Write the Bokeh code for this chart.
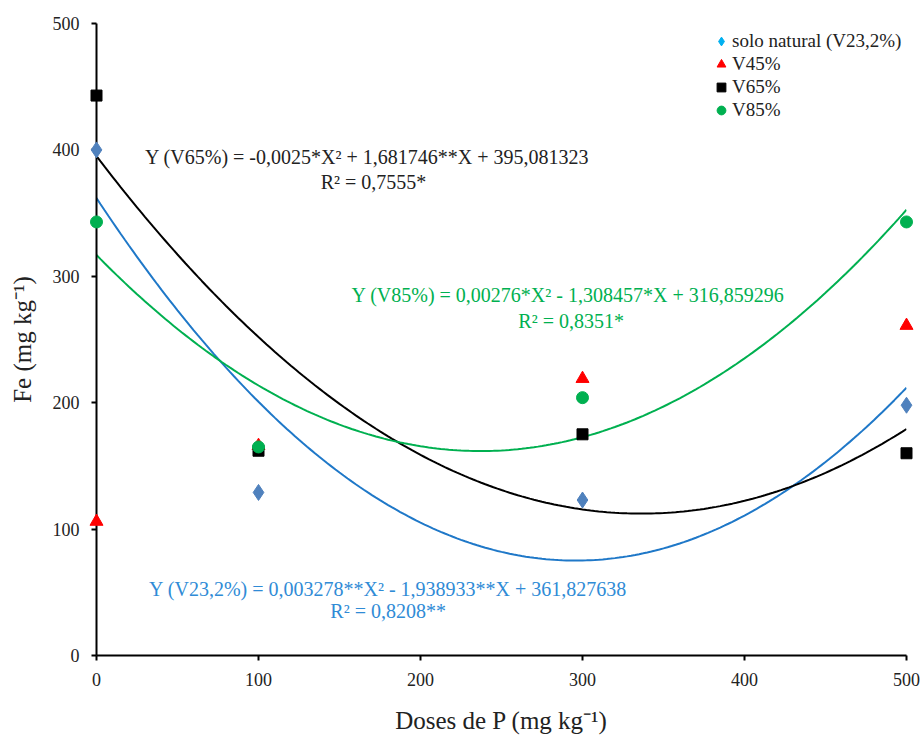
import numpy as np
from bokeh.plotting import figure
from bokeh.models import Range1d, FixedTicker, ColumnDataSource, Legend, LegendItem, Label
from bokeh.embed import file_html
from bokeh.resources import INLINE

# ---- data ----
doses = [0, 100, 300, 500]
fe_natural = [400, 129, 123, 198]
fe_v45 = [106, 166, 219, 261]
fe_v65 = [443, 162, 175, 160]
fe_v85 = [343, 165, 204, 343]

# quadratic trend-line coefficients (a*X^2 + b*X + c)
coef_natural = [0.003278, -1.938933, 361.827638]
coef_v65 = [0.0025, -1.681746, 395.081323]
coef_v85 = [0.00276, -1.308457, 316.859296]

tick_values = [0, 100, 200, 300, 400, 500]

legend_labels = ["solo natural (V23,2%)", "V45%", "V65%", "V85%"]

eq_v65 = ["Y (V65%) = -0,0025*X\u00b2 + 1,681746**X + 395,081323", "R\u00b2 = 0,7555*"]
eq_v85 = ["Y (V85%) = 0,00276*X\u00b2 - 1,308457*X + 316,859296", "R\u00b2 = 0,8351*"]
eq_nat = ["Y (V23,2%) = 0,003278**X\u00b2 - 1,938933**X + 361,827638", "R\u00b2 = 0,8208**"]

FONT = "Liberation Serif"
C_BLUE_MK = "#4f81bd"
C_BLUE_LN = "#1f78c8"
C_BLUE_TX = "#2f8bd6"
C_GREEN = "#00b050"
C_RED = "#ff0000"

p = figure(width=923, height=736, output_backend="svg", toolbar_location=None,
           x_range=Range1d(0, 500), y_range=Range1d(0, 500),
           min_border_left=96, min_border_right=17, min_border_top=23, min_border_bottom=77)
p.outline_line_color = None
p.xgrid.visible = False
p.ygrid.visible = False
p.background_fill_color = "white"
p.border_fill_color = "white"

for ax in (p.xaxis[0], p.yaxis[0]):
    ax.ticker = FixedTicker(ticks=tick_values)
    ax.minor_tick_line_color = None
    ax.major_tick_in = 0
    ax.major_tick_out = 5
    ax.axis_line_width = 2
    ax.major_tick_line_width = 2
    ax.axis_line_color = "black"
    ax.major_tick_line_color = "black"
    ax.major_label_text_font = FONT
    ax.major_label_text_font_size = "18px"
    ax.major_label_text_color = "#222222"
    ax.axis_label_text_font = FONT
    ax.axis_label_text_font_size = "25px"
    ax.axis_label_text_font_style = "normal"
    ax.axis_label_text_color = "#222222"

p.xaxis.axis_label = "Doses de P (mg kg\u207b\u00b9)"
p.yaxis.axis_label = "Fe (mg kg\u207b\u00b9)"
p.xaxis.major_label_standoff = 12
p.yaxis.major_label_standoff = 12
p.xaxis.axis_label_standoff = 18
p.yaxis.axis_label_standoff = 14

# trend lines
xs = np.linspace(0, 500, 201)
p.line(xs, np.polyval(coef_natural, xs), line_color=C_BLUE_LN, line_width=2)
p.line(xs, np.polyval(coef_v65, xs), line_color="black", line_width=2)
p.line(xs, np.polyval(coef_v85, xs), line_color=C_GREEN, line_width=2)

# markers (overlay level so the ones on the frame edge are not cut)
p.scatter(doses, fe_natural, marker="diamond", size=16, fill_color=C_BLUE_MK, line_color=C_BLUE_MK, level="overlay")
p.scatter(doses, fe_v45, marker="triangle", size=13, fill_color=C_RED, line_color=C_RED, level="overlay")
p.scatter(doses, fe_v65, marker="square", size=11, fill_color="black", line_color="black", level="overlay")
p.scatter(doses, fe_v85, marker="circle", size=12, fill_color=C_GREEN, line_color=C_GREEN, level="overlay")

# equations
def eq(text, x, y, color):
    p.add_layout(Label(x=x, y=y, text=text, text_font=FONT, text_font_size="20px",
                       text_color=color, text_align="center", text_baseline="middle"))

eq(eq_v65[0], 167, 394, "#222222")
eq(eq_v65[1], 171, 375, "#222222")
eq(eq_v85[0], 291, 285, C_GREEN)
eq(eq_v85[1], 293, 265, C_GREEN)
eq(eq_nat[0], 180, 53, C_BLUE_TX)
eq(eq_nat[1], 180, 35, C_BLUE_TX)

# legend swatches (kept off-screen, only used for the legend)
off = dict(x=[-10000], y=[-10000])
r1 = p.scatter("x", "y", source=ColumnDataSource(off), marker="diamond", size=12, fill_color="#00b0f0", line_color="#00b0f0")
r2 = p.scatter("x", "y", source=ColumnDataSource(off), marker="triangle", size=11, fill_color=C_RED, line_color=C_RED)
r3 = p.scatter("x", "y", source=ColumnDataSource(off), marker="square", size=9, fill_color="black", line_color="black")
r4 = p.scatter("x", "y", source=ColumnDataSource(off), marker="circle", size=10, fill_color=C_GREEN, line_color=C_GREEN)
legend = Legend(items=[LegendItem(label=legend_labels[i], renderers=[r]) for i, r in enumerate([r1, r2, r3, r4])],
                location=(614, 534), border_line_color=None, background_fill_alpha=0,
                label_text_font=FONT, label_text_font_size="19px", label_text_color="#222222",
                glyph_width=22, glyph_height=22, label_standoff=0, spacing=1, padding=2, margin=0,
                label_height=20)
p.add_layout(legend, "center")

open("out.html", "w").write(file_html(p, INLINE))
